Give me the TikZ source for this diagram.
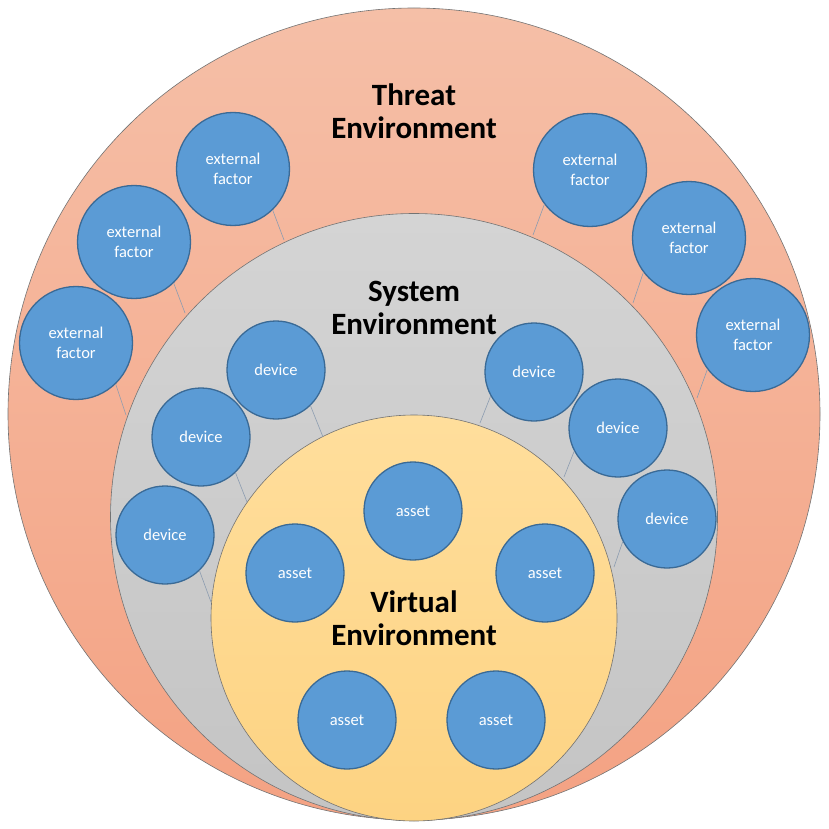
\documentclass[tikz,border=0pt]{standalone}
\usepackage{fontspec}
\setmainfont{Carlito}
\definecolor{threatTop}{HTML}{F5BFA7}
\definecolor{threatBot}{HTML}{F4A283}
\definecolor{sysTop}{HTML}{D4D4D4}
\definecolor{sysBot}{HTML}{C4C4C4}
\definecolor{virtTop}{HTML}{FFDE9C}
\definecolor{virtBot}{HTML}{FDD382}
\definecolor{blueC}{HTML}{5B9BD5}
\definecolor{blueD}{HTML}{3A6A96}
\definecolor{connC}{HTML}{8C9CB0}
\begin{document}
\begin{tikzpicture}[x=1pt,y=-1pt,
  ring/.style={circle, draw=black!55, line width=0.6pt, inner sep=0pt},
  blob/.style={circle, draw=blueD, line width=1.3pt, fill=blueC, text=white, inner sep=0pt, align=center, font=\fontsize{16.5}{19.5}\selectfont},
  ext/.style={blob, minimum size=113pt},
  dev/.style={blob, minimum size=98pt},
  ast/.style={blob, minimum size=98pt},
  title/.style={align=center, font=\fontsize{31}{33}\selectfont\bfseries},
  conn/.style={draw=connC, line width=0.6pt}]

\useasboundingbox (0,0) rectangle (829,829);

% environments
\node[ring, minimum size=812pt, top color=threatTop, bottom color=threatBot] (threat) at (414,414) {};
\node[ring, minimum size=607pt, top color=sysTop, bottom color=sysBot] (system) at (414,517) {};
\node[ring, minimum size=406pt, top color=virtTop, bottom color=virtBot] (virtual) at (414,618) {};

% titles
\node[title] (tThreat) at (414,111) {Threat\\Environment};
\node[title] (tSystem) at (414,308) {System\\Environment};
\node[title] (tVirtual) at (414,618) {Virtual\\Environment};

% connector end points on ring borders
\coordinate (c1) at (284,240);
\coordinate (c2) at (185,313);
\coordinate (c3) at (126,415);
\coordinate (c4) at (533,235);
\coordinate (c5) at (633,303);
\coordinate (c6) at (697,398);
\coordinate (d1) at (323,437);
\coordinate (d2) at (247,502);
\coordinate (d3) at (211,602);
\coordinate (d4) at (480,423);
\coordinate (d5) at (564,477);
\coordinate (d6) at (614,567);

% external factors
\node[ext] (E1) at (233,169) {external\\factor};
\node[ext] (E2) at (134,242) {external\\factor};
\node[ext] (E3) at (76,343) {external\\factor};
\node[ext] (E4) at (590,170) {external\\factor};
\node[ext] (E5) at (689,238) {external\\factor};
\node[ext] (E6) at (753,335) {external\\factor};

% devices
\node[dev] (D1) at (276,370) {device};
\node[dev] (D2) at (201,437) {device};
\node[dev] (D3) at (165,535) {device};
\node[dev] (D4) at (534,372) {device};
\node[dev] (D5) at (618,428) {device};
\node[dev] (D6) at (667,519) {device};

% assets
\node[ast] (A1) at (413,511) {asset};
\node[ast] (A2) at (295,573) {asset};
\node[ast] (A3) at (545,573) {asset};
\node[ast] (A4) at (347,720) {asset};
\node[ast] (A5) at (496,720) {asset};

% connectors
\draw[conn] (E1.-46) -- (c1);
\draw[conn] (E2.-46) -- (c2);
\draw[conn] (E3.-46) -- (c3);
\draw[conn] (E4.-143) -- (c4);
\draw[conn] (E5.-143) -- (c5);
\draw[conn] (E6.-143) -- (c6);
\draw[conn] (D1.-46) -- (d1);
\draw[conn] (D2.-46) -- (d2);
\draw[conn] (D3.-46) -- (d3);
\draw[conn] (D4.-151) -- (d4);
\draw[conn] (D5.-152) -- (d5);
\draw[conn] (D6.-153) -- (d6);
\end{tikzpicture}
\end{document}
